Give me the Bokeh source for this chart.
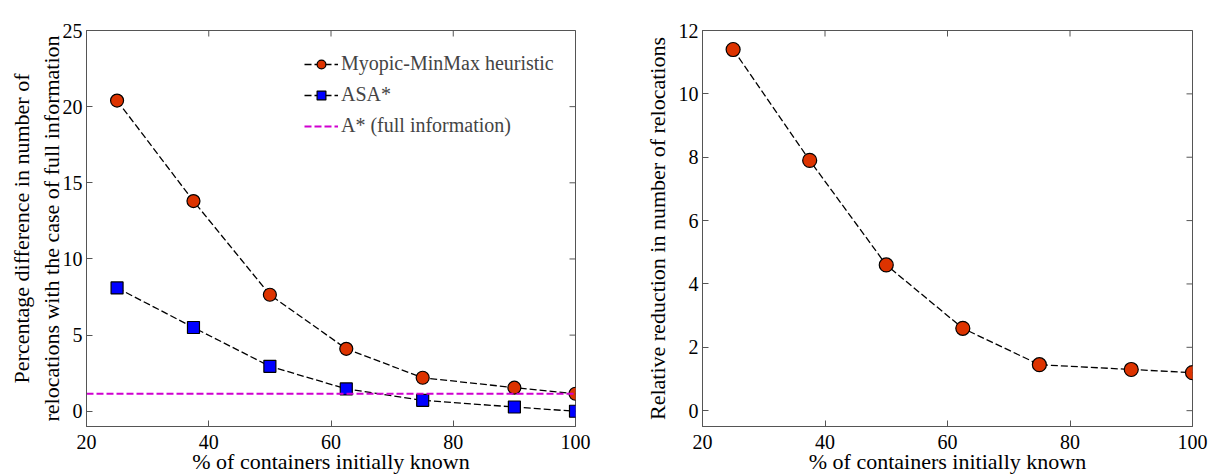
import math
from bokeh.plotting import figure
from bokeh.layouts import row
from bokeh.models import LinearAxis, Range1d, FixedTicker, Legend, LegendItem
from bokeh.embed import file_html
from bokeh.resources import INLINE

# data
known_pct = [25, 37.5, 50, 62.5, 75, 90, 100]
myopic = [20.4, 13.8, 7.65, 4.1, 2.2, 1.55, 1.15]
asa = [8.1, 5.5, 2.95, 1.47, 0.72, 0.28, 0.0]
astar_level = 1.15
reduction = [11.4, 7.9, 4.6, 2.6, 1.45, 1.3, 1.2]
x_ticks = [20, 40, 60, 80, 100]
y1_ticks = [0, 5, 10, 15, 20, 25]
y2_ticks = [0, 2, 4, 6, 8, 10, 12]
x_lim = (20, 100)
y1_lim = (-1, 25)
y2_lim = (-0.5, 12)

FONT = "Liberation Serif"
FS = "20px"
LFS = "22px"
AXC = "#555555"
RED = "#DD3300"
BLUE = "#0000FF"
MAG = "#D000D0"
DASH = "7 3"


def make_fig(width, ylim, yticks, xlabel, ylabel, mbl, mbr, ystandoff):
    p = figure(width=width, height=476, output_backend="svg", toolbar_location=None,
               x_range=Range1d(*x_lim), y_range=Range1d(*ylim),
               x_axis_location=None, y_axis_location=None,
               min_border_left=mbl, min_border_right=mbr, min_border_top=30, min_border_bottom=50)
    p.xgrid.visible = False
    p.ygrid.visible = False
    p.outline_line_color = AXC
    p.outline_line_width = 1
    common = dict(axis_line_color=AXC, major_tick_line_color=AXC, major_tick_in=6,
                  major_tick_out=0, minor_tick_line_color=None)
    lab = dict(major_label_text_font=FONT, major_label_text_font_size=FS,
               major_label_text_color="black", axis_label_text_font=FONT,
               axis_label_text_font_size=LFS, axis_label_text_font_style="normal",
               axis_label_text_color="black")
    xb = LinearAxis(ticker=FixedTicker(ticks=x_ticks), axis_label=xlabel,
                    major_label_standoff=8, axis_label_standoff=-3, **common, **lab)
    yl = LinearAxis(ticker=FixedTicker(ticks=yticks), axis_label=ylabel,
                    major_label_standoff=4, axis_label_standoff=ystandoff, **common, **lab)
    p.add_layout(xb, "below")
    p.add_layout(yl, "left")
    # mirrored inward ticks on the top and right edges (half of each dash is clipped by the frame)
    p.scatter(x_ticks, [ylim[1]] * len(x_ticks), marker="dash", angle=math.pi / 2,
              size=12, line_color=AXC, line_width=1)
    p.scatter([x_lim[1]] * len(yticks), yticks, marker="dash",
              size=12, line_color=AXC, line_width=1)
    return p


p1 = make_fig(610, y1_lim, y1_ticks, "% of containers initially known",
              "Percentage difference in number of\nrelocations with the case of full information",
              86, 35, -4)

r_m = p1.line(known_pct, myopic, line_color="black", line_dash=DASH, line_width=1.3)
s_m = p1.scatter(known_pct, myopic, marker="circle", size=13, fill_color=RED,
                 line_color="black", line_width=1.2)
r_a = p1.line(known_pct, asa, line_color="black", line_dash=DASH, line_width=1.3)
s_a = p1.scatter(known_pct, asa, marker="square", size=12, fill_color=BLUE,
                 line_color="black", line_width=1.2)
r_s = p1.line(list(x_lim), [astar_level, astar_level], line_color=MAG, line_dash=DASH, line_width=1.8)

legend = Legend(items=[
    LegendItem(label="Myopic-MinMax heuristic", renderers=[r_m, s_m]),
    LegendItem(label="ASA*", renderers=[r_a, s_a]),
    LegendItem(label="A* (full information)", renderers=[r_s]),
], location=(218, 289), border_line_color=None, background_fill_alpha=0,
    label_text_font=FONT, label_text_font_size=FS, glyph_width=34, glyph_height=22,
    spacing=8, label_standoff=3, padding=4, margin=0)
p1.add_layout(legend)

p2 = make_fig(600, y2_lim, y2_ticks, "% of containers initially known",
              "Relative reduction in number of relocations", 92, 18, 6)
p2.line(known_pct, reduction, line_color="black", line_dash=DASH, line_width=1.3)
p2.scatter(known_pct, reduction, marker="circle", size=14, fill_color=RED,
           line_color="black", line_width=1.2)

layout = row(p1, p2)
open("out.html", "w").write(file_html(layout, INLINE))
